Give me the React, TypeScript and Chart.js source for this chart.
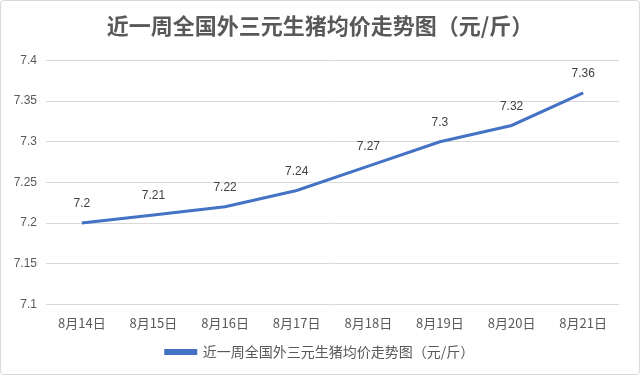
import React, { useEffect, useRef } from "react";
import { Chart, registerables } from "chart.js";

Chart.register(...registerables);

const categories = ["8月14日", "8月15日", "8月16日", "8月17日", "8月18日", "8月19日", "8月20日", "8月21日"];
const prices = [7.2, 7.21, 7.22, 7.24, 7.27, 7.3, 7.32, 7.36];
const seriesName = "近一周全国外三元生猪均价走势图（元/斤）";
const titleText = "近一周全国外三元生猪均价走势图（元/斤）";
const yMin = 7.1;
const yMax = 7.4;
const yStep = 0.05;

const FONT = "'Liberation Sans', 'Noto Sans CJK SC', sans-serif";
const CJK = "'Noto Sans CJK SC', 'Liberation Sans', sans-serif";

const labelPlugin = {
  id: "pointLabels",
  afterDatasetsDraw(chart: any) {
    const ctx = chart.ctx;
    const meta = chart.getDatasetMeta(0);
    const data = chart.data.datasets[0].data as number[];
    ctx.save();
    ctx.font = `12px ${FONT}`;
    ctx.fillStyle = "#404040";
    ctx.textAlign = "center";
    ctx.textBaseline = "bottom";
    meta.data.forEach((pt: any, i: number) => {
      ctx.fillText(String(data[i]), pt.x, pt.y - 13);
    });
    ctx.restore();
  },
};

export default function App() {
  const ref = useRef<HTMLCanvasElement>(null);
  useEffect(() => {
    document.body.style.margin = "0";
    const chart = new Chart(ref.current!, {
      type: "line",
      data: {
        labels: categories,
        datasets: [
          {
            label: seriesName,
            data: prices,
            borderColor: "#4472C4",
            backgroundColor: "#4472C4",
            borderWidth: 3,
            pointRadius: 0,
            tension: 0,
            yAxisID: "y",
          },
        ],
      },
      options: {
        responsive: false,
        animation: false,
        layout: { padding: { left: 4, right: 4, top: 4, bottom: 5 } },
        plugins: {
          title: {
            display: true,
            text: titleText,
            color: "#595959",
            font: { family: CJK, size: 22, weight: "bold" },
            padding: { top: 7, bottom: 22 },
          },
          legend: {
            position: "bottom",
            labels: {
              color: "#595959",
              font: { family: CJK, size: 14 },
              boxWidth: 30,
              boxHeight: 3,
              padding: 3,
            },
          },
          tooltip: { enabled: false },
        },
        scales: {
          x: {
            offset: true,
            grid: { display: false, drawTicks: false },
            border: { display: false },
            ticks: { color: "#595959", font: { family: CJK, size: 13 }, padding: 11 },
          },
          y: {
            min: yMin,
            max: yMax,
            grid: { color: "#d9d9d9", drawTicks: false },
            border: { display: false },
            afterFit: (s: any) => {
              s.width = 41;
            },
            ticks: {
              stepSize: yStep,
              color: "#595959",
              font: { family: FONT, size: 12 },
              padding: 9,
              callback: (v: any) => String(parseFloat(Number(v).toFixed(2))),
            },
          },
          yRight: {
            position: "right",
            min: yMin,
            max: yMax,
            grid: { display: false, drawTicks: false },
            border: { display: false },
            ticks: { display: false },
            afterFit: (s: any) => {
              s.width = 16;
            },
          },
        },
      },
      plugins: [labelPlugin],
    });
    return () => chart.destroy();
  }, []);
  return (
    <div style={{ position: "relative", width: 640, height: 375, boxSizing: "border-box", border: "1px solid #d9d9d9", borderRadius: 4, background: "#fff" }}>
      <canvas ref={ref} width={638} height={373} style={{ display: "block" }} />
    </div>
  );
}
